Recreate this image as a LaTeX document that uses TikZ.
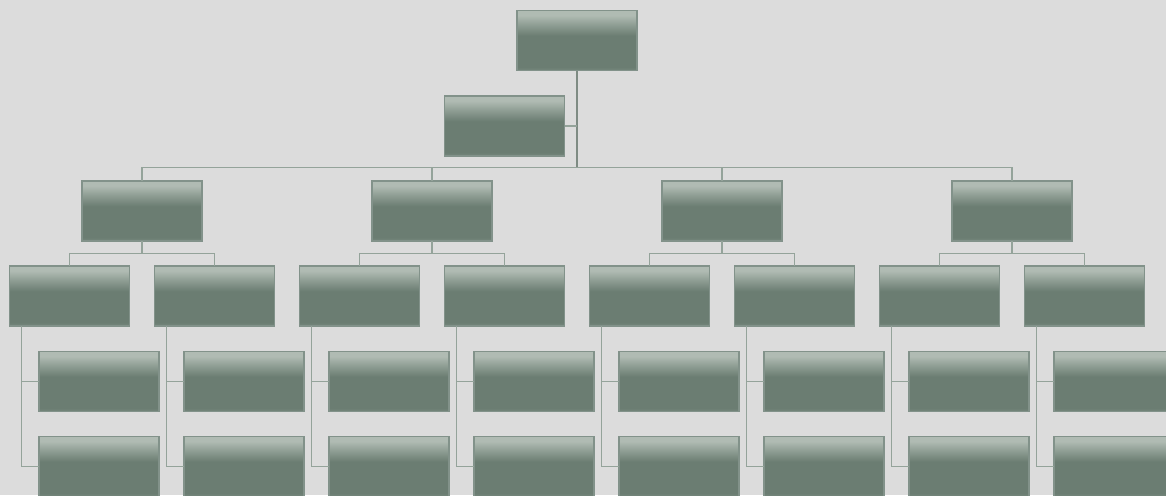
\documentclass[tikz,border=0pt]{standalone}
\usetikzlibrary{calc}
\definecolor{bg}{HTML}{DCDCDC}
\definecolor{boxline}{HTML}{82928A}
\definecolor{conn}{HTML}{94A39A}
\definecolor{dk}{HTML}{6B7D72}
\definecolor{dkb}{HTML}{76887D}
\definecolor{mid}{HTML}{8E9D93}
\definecolor{lt}{HTML}{B0BBB3}
\pgfdeclareverticalshading{boxshade}{100bp}{color(0bp)=(dkb); color(25bp)=(dkb); color(28bp)=(dk); color(54bp)=(dk); color(63bp)=(mid); color(71bp)=(lt); color(75bp)=(lt); color(100bp)=(lt)}
\tikzset{
  orgbox/.style={draw=boxline, line width=1.4pt, shading=boxshade, minimum width=120pt, minimum height=60pt, inner sep=0pt, outer sep=0pt},
  link/.style={draw=conn, line width=1.9pt},
  mainlink/.style={draw=conn!85!black, line width=2.2pt}
}
\begin{document}
\begin{tikzpicture}[x=1pt,y=-1pt]
\useasboundingbox (0,0) rectangle (1166,495);
\clip (0,0) rectangle (1166,495);
\fill[bg] (0,0) rectangle (1166,495);
\coordinate (bar) at (0,167.5);
\coordinate (sbar) at (0,253.5);
% connectors first (behind boxes)
\path (577,40.5) coordinate (topc) (504.5,126) coordinate (asstc);
\node[orgbox] (top) at (577,40.5) {};
\node[orgbox] (asst) at (504.5,126) {};
\foreach \i/\x in {0/142,1/432,2/722,3/1012}{
  \node[orgbox] (l2\i) at (\x,211) {};
}
\foreach \j in {0,...,7}{
  \pgfmathsetmacro{\cx}{69.5+145*\j}
  \pgfmathsetmacro{\dx}{99+145*\j}
  \node[orgbox] (l3\j) at (\cx,296) {};
  \node[orgbox] (l4\j) at (\dx,381.5) {};
  \node[orgbox] (l5\j) at (\dx,466.5) {};
}
\draw[mainlink] (top.south) -- (top.south |- bar);
\draw[link] (asst.east) -- (asst.east -| top.south);
\foreach \i in {0,1,2,3}{
  \draw[link] (top.south |- bar) -| (l2\i.north);
}
\foreach \i/\a/\b in {0/0/1,1/2/3,2/4/5,3/6/7}{
  \draw[link] (l2\i.south) -- (l2\i.south |- sbar) -| (l3\a.north);
  \draw[link] (l2\i.south |- sbar) -| (l3\b.north);
}
\foreach \j in {0,...,7}{
  \draw[link] ([xshift=12pt]l3\j.south west) |- (l4\j.west);
  \draw[link] ([xshift=12pt]l3\j.south west) |- (l5\j.west);
}
\end{tikzpicture}
\end{document}
